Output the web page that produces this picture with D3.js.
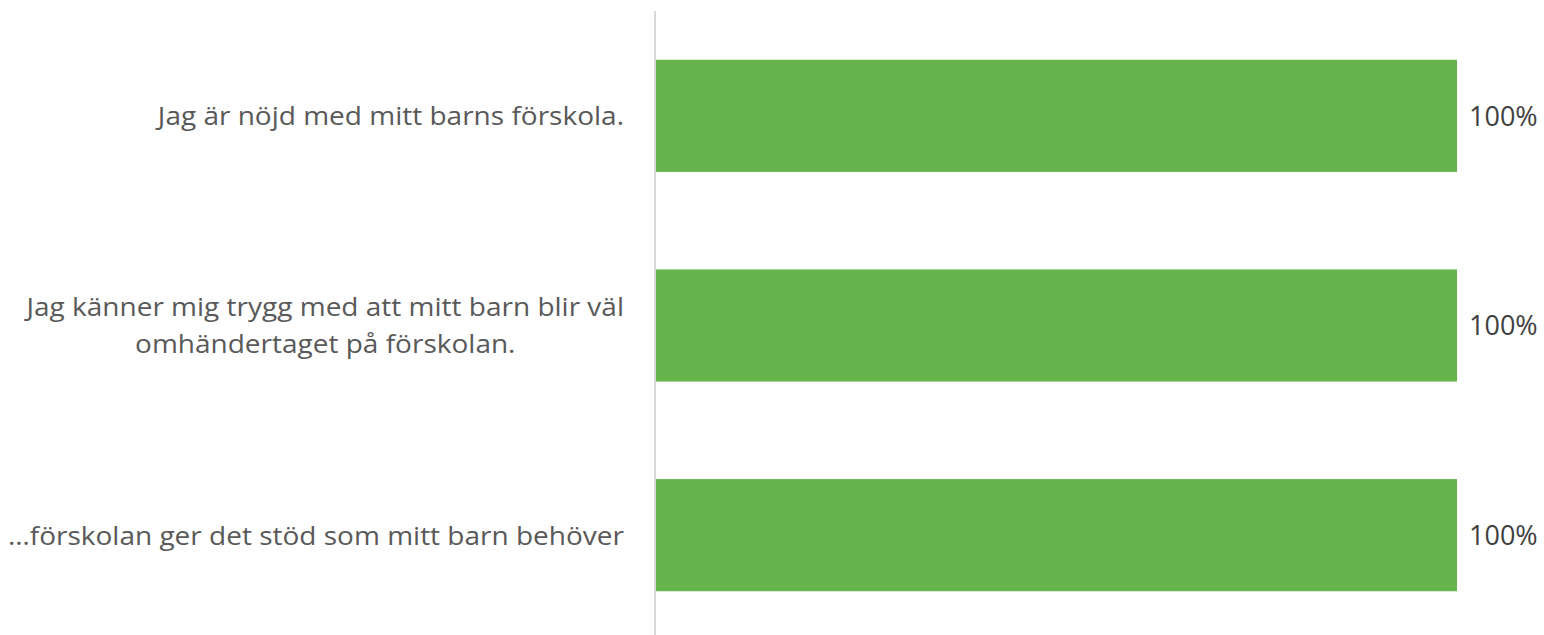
<!DOCTYPE html>
<html>
<head>
<meta charset="utf-8">
<script src="https://cdn.jsdelivr.net/npm/d3@7"></script>
<style>
  body { margin: 0; background: #fff; }
  text { font-family: "Open Sans", sans-serif; }
</style>
</head>
<body>
<div id="chart"></div>
<script>
// Data
const categories = [
    ["Jag är nöjd med mitt barns förskola."],
    ["Jag känner mig trygg med att mitt barn blir väl", "omhändertaget på förskolan."],
    ["…förskolan ger det stöd som mitt barn behöver"]
];
const values = [1.0, 1.0, 1.0];

const W = 1544, H = 635;
const axisX = 655;      // x position of the category axis
const barEnd = 1457;    // where 100% lands
const topY = 11, bottomY = 640;
const labelRight = 624;
const stretch = 1.077;  // widen Open Sans a little to match the original face

const svg = d3.select("#chart")
    .append("svg")
    .attr("width", W)
    .attr("height", H);

const yScale = d3.scaleBand()
    .domain(d3.range(categories.length))
    .range([topY, bottomY])
    .paddingInner(0.465)
    .paddingOuter(0.2325);

const xScale = d3.scaleLinear()
    .domain([0, 1])
    .range([axisX + 1, barEnd]);

// Bars
svg.selectAll("rect.bar")
    .data(values)
    .enter()
    .append("rect")
    .attr("class", "bar")
    .attr("x", xScale(0))
    .attr("y", (d, i) => yScale(i))
    .attr("width", d => xScale(d) - xScale(0))
    .attr("height", yScale.bandwidth())
    .attr("fill", "#65B54C");

// Value labels
svg.selectAll("text.value")
    .data(values)
    .enter()
    .append("text")
    .attr("class", "value")
    .attr("x", d => xScale(d) + 12)
    .attr("y", (d, i) => yScale(i) + yScale.bandwidth() / 2)
    .attr("dy", "0.36em")
    .attr("fill", "#404040")
    .style("font-size", "27px")
    .text(d => d3.format(".0%")(d));

// Category axis line
svg.append("line")
    .attr("x1", axisX).attr("x2", axisX)
    .attr("y1", topY).attr("y2", H)
    .attr("stroke", "#d9d9d9")
    .attr("stroke-width", 2);

// Category labels (right aligned block, lines centered, block centered on band)
const lineH = 37;
const labels = svg.selectAll("text.cat")
    .data(categories)
    .enter()
    .append("text")
    .attr("class", "cat")
    .attr("text-anchor", "middle")
    .attr("fill", "#595959")
    .style("font-size", "26px");

labels.each(function (lines, i) {
    const cy = yScale(i) + yScale.bandwidth() / 2;
    const t = d3.select(this);
    lines.forEach((ln, k) => {
        t.append("tspan")
            .attr("x", 0)
            .attr("y", cy + (k - (lines.length - 1) / 2) * lineH)
            .attr("dy", "0.36em")
            .text(ln);
    });
});

labels.each(function () {
    const t = d3.select(this);
    let maxW = 0;
    t.selectAll("tspan").each(function () {
        const w = this.getComputedTextLength() * stretch;
        d3.select(this).attr("textLength", w).attr("lengthAdjust", "spacingAndGlyphs");
        maxW = Math.max(maxW, w);
    });
    t.selectAll("tspan").attr("x", labelRight - maxW / 2);
});
</script>
</body>
</html>
